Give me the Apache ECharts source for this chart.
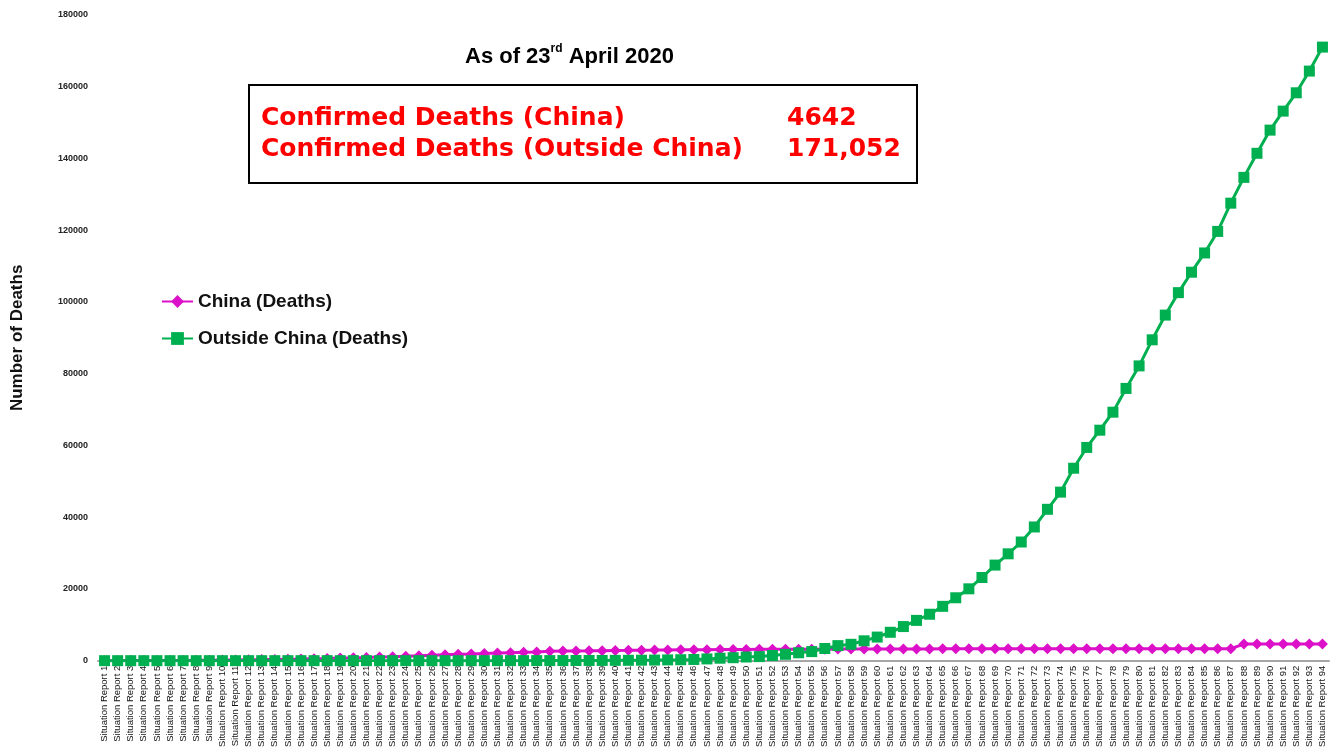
<!DOCTYPE html>
<html>
<head>
<meta charset="utf-8">
<script src="https://cdn.jsdelivr.net/npm/echarts@6/dist/echarts.min.js"></script>
<style>
  html, body { margin: 0; padding: 0; background: #fff; }
  #myChart { width: 1333px; height: 750px; }
</style>
</head>
<body>
<div id="myChart"></div>
<script>
// categories: WHO situation reports 1..94
const reports = Array.from({ length: 94 }, (_, i) => 'Situation Report ' + (i + 1));

// deaths in China, per report
const chinaDeaths = [
  6, 6, 17, 25, 41, 56, 80, 106, 132, 170,
  213, 259, 304, 361, 425, 490, 563, 636, 722, 811,
  908, 1017, 1114, 1260, 1381, 1524, 1666, 1772, 1870, 2006,
  2121, 2239, 2348, 2445, 2595, 2666, 2718, 2747, 2791, 2838,
  2873, 2915, 2946, 2984, 3015, 3045, 3073, 3100, 3123, 3140,
  3162, 3173, 3180, 3194, 3204, 3218, 3231, 3242, 3253, 3261,
  3267, 3276, 3283, 3287, 3293, 3298, 3301, 3306, 3311, 3314,
  3321, 3327, 3331, 3335, 3338, 3340, 3340, 3342, 3344, 3345,
  3349, 3349, 3351, 3351, 3352, 3352, 3342, 4632, 4642, 4642,
  4642, 4642, 4642, 4642
];

// deaths outside China, per report
const outsideDeaths = [
  0, 0, 0, 0, 0, 0, 0, 0, 0, 0,
  0, 0, 1, 1, 2, 2, 2, 2, 2, 2,
  2, 2, 2, 2, 3, 3, 3, 4, 5, 5,
  8, 11, 12, 17, 22, 34, 44, 57, 64, 86,
  104, 128, 166, 214, 267, 335, 484, 686, 826, 1021,
  1130, 1440, 1775, 2199, 2531, 3388, 4195, 4565, 5536, 6579,
  7914, 9507, 11227, 12944, 15145, 17534, 20031, 23186, 26645, 29788,
  33083, 37272, 42195, 46986, 53648, 59445, 64254, 69271, 75892, 82176,
  89449, 96339, 102600, 108297, 113665, 119669, 127543, 134736, 141446, 147909,
  153205, 158314, 164364, 171052
];

const totalsText = [
  ['Confirmed Deaths (China)', '4642'],
  ['Confirmed Deaths (Outside China)', '171,052']
];

let myChart = echarts.init(document.getElementById('myChart'));
let boxFont = 'bold 25px "DejaVu Sans"';
let option = {
  animation: false,
  title: {
    text: '{a|As of 23}{sup|rd}{a| April 2020}',
    left: 460,
    top: 38,
    textStyle: {
      rich: {
        a: { fontSize: 22, fontWeight: 'bold', fontFamily: 'Liberation Sans', color: '#000', lineHeight: 28 },
        sup: { fontSize: 12, fontWeight: 'bold', fontFamily: 'Liberation Sans', color: '#000', verticalAlign: 'top', lineHeight: 28 }
      }
    }
  },
  legend: {
    orient: 'vertical',
    left: 156,
    top: 286,
    itemWidth: 31,
    itemHeight: 16,
    itemGap: 16,
    textStyle: {
      fontSize: 19,
      fontWeight: 'bold',
      fontFamily: 'Liberation Sans',
      color: '#111',
      lineHeight: 21
    }
  },
  graphic: [
    {
      type: 'rect',
      shape: { x: 249, y: 85, width: 668, height: 98 },
      style: { fill: 'none', stroke: '#000', lineWidth: 2 }
    },
    {
      type: 'text',
      style: { text: totalsText[0][0], x: 261, y: 118, font: boxFont, fill: '#ff0000', verticalAlign: 'middle' }
    },
    {
      type: 'text',
      style: { text: totalsText[0][1], x: 787, y: 118, font: boxFont, fill: '#ff0000', verticalAlign: 'middle' }
    },
    {
      type: 'text',
      style: { text: totalsText[1][0], x: 261, y: 149, font: boxFont, fill: '#ff0000', verticalAlign: 'middle' }
    },
    {
      type: 'text',
      style: { text: totalsText[1][1], x: 787, y: 149, font: boxFont, fill: '#ff0000', verticalAlign: 'middle' }
    }
  ],
  grid: {
    left: 98,
    right: 4,
    top: 15,
    bottom: 87
  },
  xAxis: {
    type: 'category',
    boundaryGap: true,
    data: reports,
    axisLine: { lineStyle: { color: '#a6a6a6', width: 2 } },
    axisTick: { show: false },
    axisLabel: {
      interval: 0,
      rotate: 90,
      margin: 5,
      fontSize: 9.5,
      fontFamily: 'Liberation Sans',
      color: '#111'
    }
  },
  yAxis: {
    type: 'value',
    min: 0,
    max: 180000,
    interval: 20000,
    name: 'Number of Deaths',
    nameLocation: 'middle',
    nameGap: 72,
    nameTextStyle: { fontSize: 17, fontWeight: 'bold', fontFamily: 'Liberation Sans', color: '#111' },
    axisLine: { show: false },
    axisTick: { show: false },
    splitLine: { show: false },
    axisLabel: {
      margin: 10,
      fontSize: 9,
      fontWeight: 'bold',
      fontFamily: 'Liberation Sans',
      color: '#222',
      formatter: function (v) { return String(v); }
    }
  },
  series: [
    {
      name: 'China (Deaths)',
      type: 'line',
      data: chinaDeaths,
      symbol: 'diamond',
      symbolSize: 11,
      lineStyle: { width: 3, color: '#dc10c8' },
      itemStyle: { color: '#dc10c8' }
    },
    {
      name: 'Outside China (Deaths)',
      type: 'line',
      data: outsideDeaths,
      symbol: 'rect',
      symbolSize: 11,
      lineStyle: { width: 3, color: '#00b050' },
      itemStyle: { color: '#00b050' }
    }
  ]
};
myChart.setOption(option, true);
</script>
</body>
</html>
